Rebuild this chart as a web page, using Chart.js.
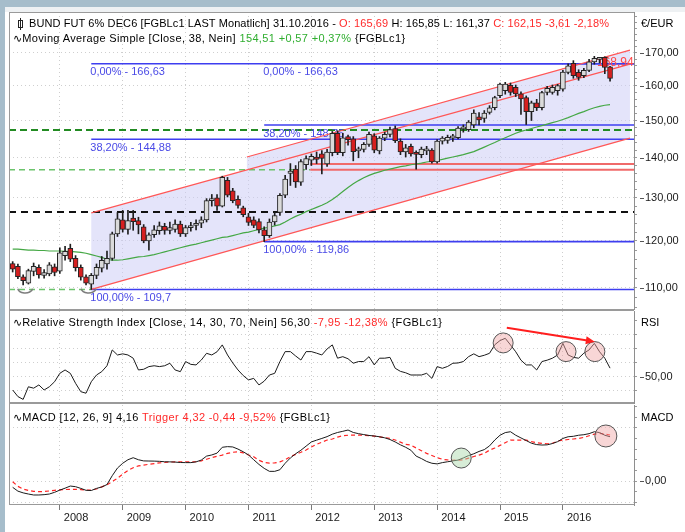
<!DOCTYPE html>
<html><head><meta charset="utf-8">
<script src="https://cdn.jsdelivr.net/npm/chart.js@4.4.1/dist/chart.umd.min.js"></script>
<style>
html,body{margin:0;padding:0;background:#fff;width:685px;height:532px;overflow:hidden;font-family:"Liberation Sans",Arial,sans-serif;}
#wrap{position:relative;width:685px;height:532px;}
canvas{position:absolute;left:0;}
.t{position:absolute;font-size:11px;white-space:nowrap;color:#000;line-height:13px;}
.r{color:#ff2a2a}.g{color:#2fae2f}
.ln{position:absolute;background:#9a9a9a;}
.ci{display:inline-block;position:relative;width:3px;height:6px;border:1px solid #222;margin:0 6px 0 2px;vertical-align:-1px;}
.ci:before{content:"";position:absolute;left:1px;top:-3px;width:1px;height:12px;background:#222;}
.wv{font-family:"DejaVu Sans",sans-serif;font-size:11px;letter-spacing:0;}
</style></head><body>
<div id="wrap">
<div style="position:absolute;left:0;top:0;width:685px;height:7px;background:#a6bdcb"></div>
<div style="position:absolute;left:0;top:7px;width:685px;height:5px;background:#eef1f3"></div>
<div style="position:absolute;left:0;top:0;width:5px;height:532px;background:#a6bdcb"></div>
<canvas id="cMain" width="685" height="298" style="top:12px"></canvas>
<canvas id="cRsi" width="685" height="93" style="top:311px"></canvas>
<canvas id="cMacd" width="685" height="127" style="top:405px"></canvas>
<div class="ln" style="left:9px;top:12px;width:625px;height:1px"></div>
<div class="ln" style="left:9px;top:12px;width:1px;height:493px"></div>
<div class="ln" style="left:9px;top:309px;width:625px;height:2px"></div>
<div class="ln" style="left:9px;top:402px;width:625px;height:2px"></div>
<div class="ln" style="left:9px;top:504px;width:625px;height:1px"></div>

<div class="t" style="left:16px;top:17px;letter-spacing:0.1px"><span class="ci"></span>BUND FUT 6% DEC6 [FGBLc1 LAST Monatlich] 31.10.2016 - <span class="r">O: 165,69</span> H: 165,85 L: 161,37 <span class="r">C: 162,15 -3,61 -2,18%</span></div>
<div class="t" style="left:13px;top:32px;letter-spacing:0.36px"><span class="wv">∿</span>Moving Average Simple [Close, 38, Nein] <span class="g">154,51 +0,57 +0,37%</span> {FGBLc1}</div>
<div class="t" style="left:641px;top:17px">€/EUR</div>
<div class="t" style="left:13px;top:316px;letter-spacing:0.4px"><span class="wv">∿</span>Relative Strength Index [Close, 14, 30, 70, Nein] 56,30 <span class="r">-7,95 -12,38%</span> {FGBLc1}</div>
<div class="t" style="left:641px;top:316px">RSI</div>
<div class="t" style="left:13px;top:411px;letter-spacing:0.37px"><span class="wv">∿</span>MACD [12, 26, 9] 4,16 <span class="r">Trigger 4,32 -0,44 -9,52%</span> {FGBLc1}</div>
<div class="t" style="left:641px;top:411px">MACD</div>
</div>
<script>
// ---------------- DATA (monthly, Apr 2007 .. Oct 2016) ----------------
const yearLabels = ['2008','2009','2010','2011','2012','2013','2014','2015','2016'];
const yearStarts = [9,21,33,45,57,69,81,93,105];

const opens = [115.1,114.5,112.3,111.0,113.4,114.3,112.6,112.9,114.4,113.5,
116.8,118.4,116.2,114.3,112.3,110.8,112.6,114.1,115.0,116.2,
121.6,124.8,122.6,125.2,124.6,123.2,120.0,121.4,122.3,123.3,
122.4,122.6,123.8,121.6,123.0,123.5,124.0,124.8,129.3,130.0,
128.0,134.3,131.7,129.6,127.6,125.5,124.8,124.4,122.5,121.2,
124.3,126.5,130.6,136.0,137.1,133.8,138.2,139.4,140.2,141.0,
138.4,141.3,146.5,141.3,145.6,145.0,141.8,142.2,143.5,145.8,
141.8,145.2,146.2,147.8,144.4,141.5,143.0,141.2,140.8,141.8,
142.0,138.9,144.4,144.6,145.2,145.3,147.7,147.5,148.8,151.0,
150.6,152.3,153.6,157.1,158.5,160.1,159.5,157.6,156.5,152.5,
155.0,153.6,158.0,158.0,158.5,159.0,164.0,166.8,164.0,163.0,
164.6,167.2,168.0,168.6,165.69];
const highs = [115.5,115.0,112.7,113.9,115.2,114.8,113.8,115.3,115.0,118.5,
118.8,119.3,116.8,114.8,112.7,113.0,115.0,116.6,117.8,122.0,
126.5,127.0,127.0,127.0,125.4,123.7,121.8,123.5,124.3,124.0,
124.3,124.8,124.5,123.5,124.2,124.8,125.5,129.8,130.8,130.8,
135.3,135.0,132.3,130.5,128.0,126.3,125.5,125.0,123.2,125.0,
126.5,131.0,135.5,138.5,138.0,139.5,140.5,141.0,141.5,141.9,
142.2,147.0,147.2,146.5,146.0,145.6,142.8,144.0,146.8,146.4,
145.6,146.8,148.2,148.5,145.0,143.5,143.6,141.8,142.8,143.0,
142.4,144.8,145.6,146.0,146.2,148.3,148.8,150.0,153.0,152.2,
152.8,154.2,156.9,160.8,161.0,160.8,160.2,158.2,157.0,155.5,
156.0,158.3,159.8,160.2,160.4,164.6,166.63,167.6,164.8,165.2,
168.0,168.94,168.6,168.8,165.85];
const lows = [113.3,111.9,110.6,110.8,112.5,112.0,112.0,112.5,112.5,113.0,
115.8,115.5,113.5,111.6,110.6,109.7,111.9,113.3,113.9,115.8,
121.0,122.0,121.5,122.4,121.6,119.6,118.0,120.8,121.5,121.5,
121.6,122.0,121.0,121.0,122.2,122.5,123.0,124.3,128.0,127.0,
127.8,130.2,128.8,127.5,125.5,123.5,123.0,121.8,119.86,120.8,
123.6,125.8,130.0,133.0,132.5,133.0,137.0,138.0,138.5,135.9,
137.8,140.5,140.8,140.5,143.3,139.2,140.0,141.5,143.0,141.3,
141.0,144.5,145.5,144.0,140.8,140.2,140.4,137.1,140.0,140.8,
138.6,138.6,143.6,143.8,144.3,145.0,146.8,147.0,148.0,148.8,
149.5,151.8,153.0,156.5,157.5,157.2,156.8,151.7,148.9,150.0,
152.8,153.0,157.3,157.5,157.2,158.4,163.5,162.2,161.6,162.4,
164.2,166.5,166.9,163.6,161.37];
const closes = [113.9,112.3,111.5,113.6,114.5,112.7,113.2,114.8,113.2,117.4,
117.7,116.0,114.2,112.2,111.0,112.6,114.3,115.8,116.2,121.6,
125.0,122.6,124.6,124.4,123.6,120.0,121.4,122.5,123.4,122.4,
123.0,123.8,121.6,123.0,123.5,124.0,124.8,129.3,129.8,128.0,
135.0,130.6,129.3,128.2,126.0,124.2,123.5,122.5,121.2,124.3,
125.8,130.6,134.6,136.6,133.9,139.0,139.8,140.4,139.6,139.8,
141.5,146.5,141.3,145.3,144.8,141.6,142.3,143.5,146.2,142.0,
145.2,146.2,147.5,144.5,141.5,142.6,141.0,140.9,142.3,142.1,
138.9,144.4,145.2,145.4,145.8,147.9,148.2,149.6,152.1,150.2,
152.1,153.6,156.5,160.5,160.5,158.0,157.6,156.1,152.5,155.0,
153.6,158.0,159.2,159.5,160.0,164.1,166.0,163.0,162.5,164.6,
167.2,168.3,168.4,165.5,162.15];
const sma38 = [118.2,118.2,118.1,118.0,118.0,117.9,117.9,117.8,117.8,117.8,
117.7,117.7,117.6,117.5,117.3,117.0,116.7,116.4,116.0,115.8,
115.8,115.9,116.1,116.3,116.5,116.6,116.8,117.0,117.3,117.6,
117.9,118.2,118.5,118.8,119.1,119.3,119.6,119.9,120.2,120.5,
120.8,120.9,121.2,121.5,121.8,122.0,122.3,122.6,122.9,123.1,
123.4,123.7,124.3,125.0,125.6,126.1,126.7,127.2,127.7,128.2,
128.8,129.6,130.5,131.5,132.5,133.4,134.2,134.9,135.5,136.0,
136.4,136.8,137.1,137.4,137.7,137.9,138.2,138.4,138.6,138.9,
139.1,139.3,139.6,139.9,140.2,140.5,140.8,141.2,141.6,142.2,
142.8,143.4,144.0,144.7,145.3,145.9,146.5,147.0,147.4,147.8,
148.2,148.6,149.0,149.4,149.8,150.3,150.8,151.4,152.0,152.5,
153.1,153.6,154.0,154.3,154.51];
const rsi14 = [40.7,36,34,43,42,44.3,40.7,43,46.6,52.6,
55,52.6,45.5,39.5,38.4,46.6,51.4,53.8,58,69.3,
65.7,66.5,65.7,63.4,55,55.5,57.4,58,57.4,58,
59.8,55,53.8,61,59,58.6,62.1,66.9,65.7,68,
72.9,65.7,60,55,51,47.9,49,44.3,47,51.4,
52.6,61,68.1,68.1,65,62.1,68.1,68.1,67,65.7,
70,72.9,63.4,64.5,63,59.8,61,61,64.5,58.6,
63.4,63.4,64,56.2,54,53,51.4,51.4,51.4,52.6,
49,57.4,56.2,57.5,59.8,60,61,64.5,66.5,64.5,
65.5,66.9,73,76,77.6,72.9,68,62,58.6,58.6,
55,61,62,63.4,65.7,74,65.7,64,63.4,67,
69.3,74,68,63.4,56.3];
const macdLine = [-0.59,-0.95,-1.11,-1.22,-1.31,-1.31,-1.28,-1.22,-1.06,-0.85,
-0.67,-0.47,-0.53,-0.69,-0.87,-0.89,-0.69,-0.56,-0.33,0.5,
1.22,1.67,2.0,2.19,2.0,1.89,1.88,1.87,1.85,1.81,
1.8,1.78,1.74,1.73,1.73,1.8,1.97,2.34,2.45,2.62,
3.17,3.23,3.2,3.0,2.75,2.45,2.0,1.56,1.19,0.91,
0.91,1.06,1.67,2.17,2.56,2.89,3.28,3.67,3.84,4.0,
4.17,4.4,4.56,4.67,4.79,4.56,4.45,4.36,4.28,4.23,
4.16,4.06,3.9,3.67,3.4,3.17,2.89,2.34,2.11,1.84,
1.67,1.61,1.73,1.81,1.89,1.97,2.17,2.39,2.56,2.78,
2.95,3.3,3.85,4.3,4.55,4.63,4.3,4.05,3.8,3.55,
3.42,3.38,3.4,3.52,3.7,4.0,4.16,4.2,4.3,4.35,
4.45,4.63,4.55,4.3,4.16];
const macdTrigger = [-0.07,-0.5,-0.75,-0.88,-0.97,-1.0,-0.98,-0.93,-0.87,-0.83,
-0.8,-0.78,-0.78,-0.8,-0.84,-0.84,-0.75,-0.55,-0.35,-0.05,
0.26,0.65,1.0,1.25,1.42,1.5,1.57,1.64,1.7,1.74,
1.78,1.8,1.81,1.81,1.8,1.81,1.9,2.05,2.2,2.32,
2.44,2.6,2.7,2.75,2.65,2.45,2.28,1.95,1.75,1.68,
1.7,1.8,2.0,2.3,2.5,2.7,2.92,3.2,3.45,3.65,
3.85,3.95,4.13,4.25,4.3,4.32,4.32,4.3,4.26,4.22,
4.15,4.08,4.0,3.85,3.65,3.45,3.38,3.1,2.85,2.6,
2.4,2.2,2.04,1.98,1.95,1.97,2.0,2.15,2.3,2.44,
2.6,2.9,3.1,3.35,3.6,3.85,3.85,3.85,3.85,3.7,
3.6,3.54,3.5,3.55,3.75,3.85,3.9,3.95,4.0,4.1,
4.25,4.4,4.48,4.42,4.32];

const priceTicks = [110,120,130,140,150,160,170];
const rsiTicks = [50];
const macdTicks = [0];

// drawing objects (index, price)
const fibPct = ['0,00%','38,20%','100,00%'];
const fibALevels = [166.63,144.88,109.7];
const fibAStart = 15;
const fibBLevels = [166.63,148.76,119.86];
const fibBStart = 48;
const channelLower = [[15,109.7],[117.8,145.2]];
const channelUpper = [[15,126.4],[117.8,166.5]];
const channelInner = [[44.7,140.2],[117.8,170.9]];
const levelDarkGreen = 147.4;
const levelBlack = 126.6;
const levelsLightGreen = [136.9,109.7];
const levelsRed = [138.4,136.9];
const redLevelStart = 56.8;
const bottomArcs = [[2.4,110.0],[14.5,110.0]];
const highMark = [111.5,168.94];
const rsiCircles = [[93.6,74.3],[105.6,68.1],[111.1,68.1]];
const rsiArrow = [[94.3,85.2],[111.1,75.2]];
const macdCircles = [[85.6,2.16],[113.2,4.23]];

// ---------------- SETUP ----------------
Chart.defaults.font.family = '"Liberation Sans", Arial, sans-serif';
Chart.defaults.font.size = 11;
Chart.defaults.color = '#1a1a1a';
Chart.defaults.animation = false;
const X_MIN = -0.7, X_MAX = 118.57;
const idx = closes.map((_, i) => i);
const deFmt = v => v.toFixed(2).replace('.', ',');
const deShort = v => String(v).replace('.', ',');

function xScale(show) {
  return {
    type: 'linear', min: X_MIN, max: X_MAX, offset: false, bounds: 'data',
    afterBuildTicks: s => { s.ticks = yearStarts.map(v => ({ value: v })); },
    ticks: { display: show, autoSkip: false, maxRotation: 0, minRotation: 0, align: 'start', labelOffset: 4, padding: 1,
      color: '#1a1a1a', font: { size: 11 },
      callback: v => { const k = yearStarts.indexOf(v); return k >= 0 ? yearLabels[k] : ''; } },
    grid: { color: '#cdcdcd', lineWidth: 1, drawTicks: show, tickLength: 5, tickColor: '#7a7a7a', tickBorderDash: [], offset: false },
    border: { display: false, dash: [1, 3] },
    afterFit: s => { s.height = show ? 27 : 0; s.paddingLeft = 0; s.paddingRight = 0; }
  };
}
function yScale(extra, labelled, step, from, to) {
  return Object.assign({
    position: 'right', bounds: 'data',
    afterBuildTicks: s => { const t = []; for (let v = from; v <= to + 1e-9; v += step) t.push({ value: Math.round(v * 100) / 100 }); s.ticks = t; },
    ticks: { autoSkip: false, padding: 8, color: '#1a1a1a', font: { size: 11 },
      callback: v => labelled.includes(v) ? deFmt(v) : '' },
    grid: { color: c => (c.tick && labelled.concat(extra.gridAt || []).includes(c.tick.value)) ? '#cfcfcf' : 'rgba(0,0,0,0)',
      tickLength: 3, tickColor: '#9a9a9a', tickBorderDash: [] },
    border: { display: true, color: '#8e8e8e', width: 1, dash: [1, 3] },
    afterFit: s => { s.width = 51; s.paddingTop = 0; s.paddingBottom = 0; }
  }, extra.base);
}
function axisDash(list, scaleId) {
  return { id: 'dash' + scaleId, afterDraw(chart) {
    const { ctx, chartArea: a, scales } = chart; const s = scales[scaleId];
    ctx.save(); ctx.strokeStyle = '#555'; ctx.lineWidth = 1;
    list.forEach(v => { const p = Math.round(s.getPixelForValue(v)) + 0.5; ctx.beginPath(); ctx.moveTo(a.right + 6, p); ctx.lineTo(a.right + 10, p); ctx.stroke(); });
    ctx.restore();
  } };
}

const mainOverlay = {
  id: 'mainOverlay',
  beforeDatasetsDraw(chart) {
    const { ctx, chartArea: a, scales: { x, y } } = chart;
    const px = i => x.getPixelForValue(i), py = v => y.getPixelForValue(v);
    const P = p => [px(p[0]), py(p[1])];
    ctx.save();
    ctx.beginPath(); ctx.rect(a.left, a.top, a.right - a.left, a.bottom - a.top); ctx.clip();
    const L0 = P(channelLower[0]), L1 = P(channelLower[1]);
    const U0 = P(channelUpper[0]), U1 = P(channelUpper[1]);
    const I0 = P(channelInner[0]), I1 = P(channelInner[1]);
    const uAt = xp => U0[1] + (U1[1] - U0[1]) * (xp - U0[0]) / (U1[0] - U0[0]);
    ctx.beginPath(); ctx.moveTo(U0[0], U0[1]); ctx.lineTo(I0[0], uAt(I0[0])); ctx.lineTo(I0[0], I0[1]);
    ctx.lineTo(I1[0], I1[1]); ctx.lineTo(L1[0], L1[1]); ctx.lineTo(L0[0], L0[1]); ctx.closePath();
    ctx.fillStyle = 'rgba(206,206,246,0.55)'; ctx.fill();
    const hline = (v, i0, i1, color, w, dash) => {
      const yy = py(v); ctx.beginPath(); ctx.setLineDash(dash); ctx.strokeStyle = color; ctx.lineWidth = w;
      ctx.moveTo(px(i0), yy); ctx.lineTo(px(i1), yy); ctx.stroke(); ctx.setLineDash([]);
    };
    hline(levelsLightGreen[0], X_MIN, redLevelStart, '#6cc46c', 1.5, [6, 4]);
    hline(levelsLightGreen[1], X_MIN, fibAStart, '#6cc46c', 1.5, [6, 4]);
    levelsRed.forEach(v => hline(v, redLevelStart, X_MAX, '#f06a6a', 2, []));
    hline(levelBlack, X_MIN, X_MAX, '#111111', 2, [7, 5]);
    hline(levelDarkGreen, X_MIN, X_MAX, '#228b22', 2, [7, 4]);
    ctx.font = '11px "Liberation Sans", Arial, sans-serif'; ctx.textBaseline = 'top';
    [[fibAStart, fibALevels], [fibBStart, fibBLevels]].forEach(([st, lv]) => {
      lv.forEach((v, k) => {
        hline(v, st, X_MAX, '#3e3ef0', 1.6, []);
        ctx.fillStyle = '#4a4ae6';
        ctx.fillText(fibPct[k] + ' - ' + deShort(v), px(st) - 1, py(v) + 3);
      });
    });
    ctx.strokeStyle = '#ff5757'; ctx.lineWidth = 1.2;
    [[L0, L1], [U0, U1], [I0, I1]].forEach(([p0, p1]) => { ctx.beginPath(); ctx.moveTo(p0[0], p0[1]); ctx.lineTo(p1[0], p1[1]); ctx.stroke(); });
    ctx.strokeStyle = '#7d7d7d'; ctx.lineWidth = 1.5;
    bottomArcs.forEach(p => { ctx.beginPath(); ctx.ellipse(px(p[0]), py(p[1]), 7.5, 5, 0, 0.15, Math.PI - 0.15); ctx.stroke(); });
    ctx.font = '12px "Liberation Sans", Arial, sans-serif'; ctx.textBaseline = 'middle'; ctx.fillStyle = '#ff4848';
    ctx.fillText(deShort(highMark[1]), px(highMark[0]), py(highMark[1]) + 6);
    ctx.restore();
  }
};

function circle(ctx, cx, cy, r, fill) {
  ctx.beginPath(); ctx.arc(cx, cy, r, 0, Math.PI * 2); ctx.fillStyle = fill; ctx.fill();
  ctx.strokeStyle = '#555'; ctx.lineWidth = 1; ctx.stroke();
}
const rsiOverlay = {
  id: 'rsiOverlay',
  afterDatasetsDraw(chart) {
    const { ctx, scales: { x, y } } = chart;
    ctx.save();
    rsiCircles.forEach(p => circle(ctx, x.getPixelForValue(p[0]), y.getPixelForValue(p[1]), 10, 'rgba(240,165,165,0.45)'));
    const ax = x.getPixelForValue(rsiArrow[0][0]), ay = y.getPixelForValue(rsiArrow[0][1]);
    const bx = x.getPixelForValue(rsiArrow[1][0]), by = y.getPixelForValue(rsiArrow[1][1]);
    const ang = Math.atan2(by - ay, bx - ax);
    ctx.strokeStyle = '#ff1e1e'; ctx.fillStyle = '#ff1e1e'; ctx.lineWidth = 2;
    ctx.beginPath(); ctx.moveTo(ax, ay); ctx.lineTo(bx - 6 * Math.cos(ang), by - 6 * Math.sin(ang)); ctx.stroke();
    ctx.beginPath(); ctx.moveTo(bx, by);
    ctx.lineTo(bx - 9 * Math.cos(ang) + 4 * Math.sin(ang), by - 9 * Math.sin(ang) - 4 * Math.cos(ang));
    ctx.lineTo(bx - 9 * Math.cos(ang) - 4 * Math.sin(ang), by - 9 * Math.sin(ang) + 4 * Math.cos(ang));
    ctx.closePath(); ctx.fill();
    ctx.restore();
  }
};
const macdOverlay = {
  id: 'macdOverlay',
  afterDatasetsDraw(chart) {
    const { ctx, scales: { x, y } } = chart;
    ctx.save();
    circle(ctx, x.getPixelForValue(macdCircles[0][0]), y.getPixelForValue(macdCircles[0][1]), 10, 'rgba(175,220,175,0.5)');
    circle(ctx, x.getPixelForValue(macdCircles[1][0]), y.getPixelForValue(macdCircles[1][1]), 11, 'rgba(240,165,165,0.45)');
    ctx.restore();
  }
};

const common = { responsive: false, animation: false, events: [],
  plugins: { legend: { display: false }, tooltip: { enabled: false } } };

new Chart(document.getElementById('cMain'), {
  type: 'bar',
  data: { datasets: [
    { type: 'line', data: idx.map(i => ({ x: i, y: sma38[i] })), borderColor: '#45a845', borderWidth: 1.2, pointRadius: 0, order: 3 },
    { type: 'bar', data: idx.map(i => ({ x: i, y: [lows[i], highs[i]] })), backgroundColor: '#1e1e1e', barThickness: 1, grouped: false, order: 2 },
    { type: 'bar', data: idx.map(i => ({ x: i, y: [opens[i], closes[i]] })),
      backgroundColor: idx.map(i => closes[i] < opens[i] ? '#d61f1f' : '#dadada'),
      borderColor: '#262626', borderWidth: 1, borderSkipped: false, barThickness: 5, minBarLength: 2, grouped: false, order: 1 }
  ] },
  options: Object.assign({}, common, {
    layout: { padding: { left: 9, right: 0, top: 0, bottom: 0 } },
    scales: {
      x: xScale(false),
      y: yScale({ base: { type: 'logarithmic', min: 105.6, max: 183.4 } }, priceTicks, 2, 106, 182)
    }
  }),
  plugins: [mainOverlay, axisDash(priceTicks, 'y')]
});

new Chart(document.getElementById('cRsi'), {
  type: 'line',
  data: { datasets: [ { data: idx.map(i => ({ x: i, y: rsi14[i] })), borderColor: '#1a1a1a', borderWidth: 1, pointRadius: 0 } ] },
  options: Object.assign({}, common, {
    layout: { padding: { left: 9, right: 0, top: 0, bottom: 0 } },
    scales: {
      x: xScale(false),
      y: yScale({ base: { type: 'linear', min: 30.7, max: 97.1 }, gridAt: [40, 60, 70, 80] }, rsiTicks, 10, 40, 90)
    }
  }),
  plugins: [rsiOverlay, axisDash(rsiTicks, 'y')]
});

new Chart(document.getElementById('cMacd'), {
  type: 'line',
  data: { datasets: [
    { data: idx.map(i => ({ x: i, y: macdLine[i] })), borderColor: '#1a1a1a', borderWidth: 1, pointRadius: 0 },
    { data: idx.map(i => ({ x: i, y: macdTrigger[i] })), borderColor: '#ff2424', borderWidth: 1.2, borderDash: [4, 3], pointRadius: 0 }
  ] },
  options: Object.assign({}, common, {
    layout: { padding: { left: 9, right: 0, top: 0, bottom: 0 } },
    scales: {
      x: xScale(true),
      y: yScale({ base: { type: 'linear', min: -2.25, max: 7.14 }, gridAt: [-2, 5] }, macdTicks, 1, -2, 7)
    }
  }),
  plugins: [macdOverlay, axisDash(macdTicks, 'y')]
});
</script>
</body></html>
